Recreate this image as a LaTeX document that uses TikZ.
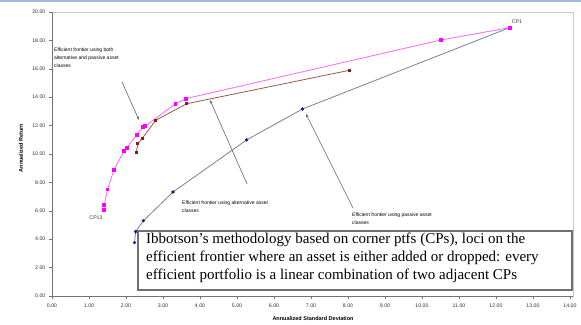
\documentclass[tikz,border=0pt]{standalone}
\usepackage{fontspec}
\setmainfont{Liberation Serif}
\setsansfont{Liberation Sans}
\usetikzlibrary{arrows.meta}
\definecolor{pinkline}{HTML}{FF66FF}
\definecolor{pinkmk}{HTML}{FF00FF}
\definecolor{brownmk}{HTML}{8B1A1A}
\definecolor{brownline}{HTML}{9A5A4A}
\definecolor{bluemk}{HTML}{1A1A80}
\definecolor{blueline}{HTML}{7A7F9E}
\definecolor{topblue}{HTML}{9DB8DC}
\definecolor{framegray}{HTML}{C8C8C8}
\definecolor{boxgray}{HTML}{707070}
\tikzset{
  pinkmark/.style={rectangle,fill=pinkmk,draw=none,minimum size=3.8pt,inner sep=0pt},
  brownmark/.style={rectangle,fill=brownmk,draw=none,minimum size=3pt,inner sep=0pt},
  bluemark/.style={rectangle,rotate=45,fill=bluemk,draw=none,minimum size=2.6pt,inner sep=0pt},
  ticklab/.style={font=\sffamily\fontsize{5.2}{6}\selectfont,text=black!80,inner sep=0pt},
  annot/.style={font=\sffamily\fontsize{5}{7.6}\selectfont,align=left,inner sep=0pt,anchor=north west},
  pointer/.style={draw=black!60,line width=0.6pt,-{Stealth[length=3.5pt,width=2.5pt,fill=black]}},
  axtitle/.style={font=\sffamily\bfseries\fontsize{5.5}{6}\selectfont,inner sep=0pt},
}
\begin{document}
\begin{tikzpicture}[x=37pt,y=14.2pt]
\useasboundingbox (-52pt,-28pt) rectangle (529pt,296pt);
\fill[white] (-52pt,-28pt) rectangle (529pt,296pt);
\fill[topblue] (-52pt,294pt) rectangle (529pt,296pt);
% plot frame
\draw[framegray,line width=0.8pt] (0,0) rectangle (521pt,284pt);
\draw[black!55,line width=0.8pt] (0,20) -- (0,0) -- (521pt,0);
% ticks
\foreach \v in {0,2,...,20} {
  \draw[black!55,line width=0.5pt] (-3pt,\v) -- (0,\v);
  \node[ticklab,anchor=east] at (-6.5pt,\v) {\v.00};
}
\foreach \v in {0,...,14} {
  \draw[black!55,line width=0.5pt] (\v,0) -- (\v,-3pt);
  \node[ticklab] at (\v,-10pt) {\v.00};
}
\node[axtitle] (xt) at (261pt,-23pt) {Annualized Standard Deviation};
\node[axtitle,rotate=90] (yt) at (-31pt,148pt) {Annualized Return};
% pink series
\foreach \n/\x/\y in {p1/1.41/6.06,p2/1.41/6.4,p3/1.5/7.5,p4/1.67/8.85,p5/1.94/10.19,p6/2.03/10.45,p7/2.29/11.36,p8/2.45/11.88,p9/2.52/11.97,p10/3.34/13.54,p11/3.62/13.9,p12/10.51/18.03,p13/12.37/18.9}
  \coordinate (\n) at (\x,\y);
\draw[pinkline,line width=0.8pt] (p1)--(p2)--(p3)--(p4)--(p5)--(p6)--(p7)--(p8)--(p9)--(p10)--(p11)--(p12)--(p13);
% brown series
\foreach \n/\x/\y in {b1/2.28/10.12,b2/2.32/10.73,b3/2.44/11.1,b4/2.8/12.37,b5/3.64/13.54,b6/8.05/15.9}
  \coordinate (\n) at (\x,\y);
\draw[brownline,line width=0.8pt] (b1)--(b2)--(b3)--(b4)--(b5)--(b6);
% blue series
\foreach \n/\x/\y in {q1/2.23/3.76,q2/2.26/4.53,q3/2.47/5.3,q4/3.27/7.32,q5/5.26/10.99,q6/6.77/13.17}
  \coordinate (\n) at (\x,\y);
\draw[blueline,line width=0.8pt] (q1)--(q2)--(q3)--(q4)--(q5)--(q6)--(p13);
% markers
\foreach \n in {p1,p2,p3,p4,p5,p6,p7,p8,p9,p10,p11,p12,p13} \node[pinkmark] (m\n) at (\n) {};
\foreach \n in {b1,b2,b3,b4,b5,b6} \node[brownmark] (m\n) at (\n) {};
\foreach \n in {q1,q2,q3,q4,q5,q6} \node[bluemark] (m\n) at (\n) {};
% labels
\node[ticklab] (cp1) at (465pt,274pt) {CP1};
\node[ticklab] (cp13) at (44pt,78pt) {CP13};
% annotations
\node[annot] (a1) at (2pt,248pt) {Efficient frontier using both\\alternative and passive asset\\classes};
\node[annot] (a2) at (130pt,95pt) {Efficient frontier using alternative asset\\classes};
\node[annot] (a3) at (300pt,83pt) {Efficient frontier using passive asset\\classes};
\coordinate (s1) at (70pt,214pt); \coordinate (t1) at (87pt,176pt);
\coordinate (s2) at (195pt,112pt); \coordinate (t2) at (158pt,196pt);
\coordinate (s3) at (301pt,88pt); \coordinate (t3) at (254pt,182pt);
\draw[pointer] (s1) -- (t1);
\draw[pointer] (s2) -- (t2);
\draw[pointer] (s3) -- (t3);
% text box
\node[draw=boxgray,line width=1.6pt,fill=white,minimum width=434pt,minimum height=59pt,anchor=north west,inner sep=0pt] (box) at (85pt,66pt) {};
\node[anchor=north west,align=left,inner sep=0pt,font=\fontsize{15}{18}\selectfont] (boxtext) at (94pt,63pt)
{Ibbotson's methodology based on corner ptfs (CPs), loci on the\\efficient frontier where an asset is either added or dropped: every\\efficient portfolio is a linear combination of two adjacent CPs};
\end{tikzpicture}
\end{document}
